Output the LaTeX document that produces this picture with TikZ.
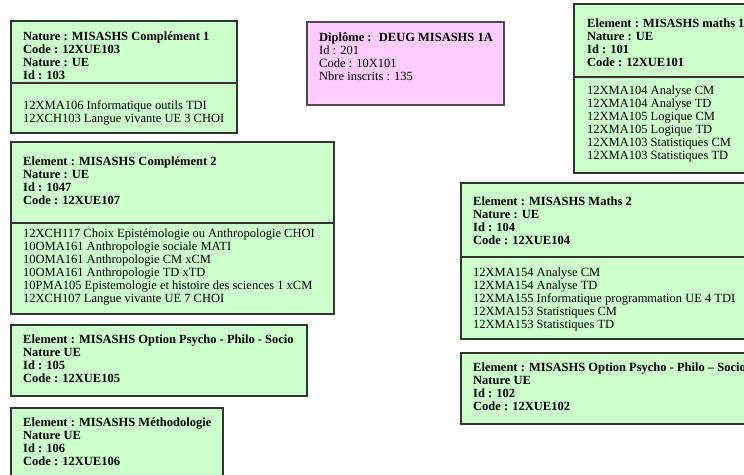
\documentclass[tikz,border=0pt]{standalone}
\usepackage{fontspec}
\setmainfont{Liberation Serif}
\usepackage{xcolor}
\usetikzlibrary{positioning}
\definecolor{uegreen}{RGB}{204,255,204}
\definecolor{diplpink}{RGB}{255,204,255}

\begin{document}
\begin{tikzpicture}
 [x=1pt, y=-1pt,
  uebox/.style={draw=black!80, line width=1.2pt, fill=uegreen},
  diplbox/.style={draw=black!70, line width=1.2pt, fill=diplpink},
  sepline/.style={draw=black!80, line width=1.2pt},
  headtxt/.style={anchor=north west, inner sep=0pt, align=left,
                  font=\fontsize{12.5}{13}\selectfont\bfseries},
  listtxt/.style={anchor=north west, inner sep=0pt, align=left,
                  font=\fontsize{12.5}{13}\selectfont}]
 \useasboundingbox (0,0) rectangle (744,474);
 \clip (0,0) rectangle (744,474);

 % left column
 \draw[uebox]   (11,21) rectangle (237,133);
 \draw[sepline] (11,83) -- (237,83);
 \node[headtxt] (compl1) at (23,32)
  {Nature : MISASHS Complément 1\\
   Code : 12XUE103\\
   Nature : UE\\
   Id : 103};
 \node[listtxt] (compl1list) at (23,100)
  {12XMA106 Informatique outils TDI\\
   12XCH103 Langue vivante UE 3 CHOI};

 \draw[uebox]   (11,142) rectangle (334,314);
 \draw[sepline] (11,223) -- (334,223);
 \node[headtxt] (compl2) at (23,157)
  {Element : MISASHS Complément 2\\
   Nature : UE\\
   Id : 1047\\
   Code : 12XUE107};
 \node[listtxt] (compl2list) at (23,229)
  {12XCH117 Choix Epistémologie ou Anthropologie CHOI\\
   10OMA161 Anthropologie sociale MATI\\
   10OMA161 Anthropologie CM xCM\\
   10OMA161 Anthropologie TD xTD\\
   10PMA105 Epistemologie et histoire des sciences 1 xCM\\
   12XCH107 Langue vivante UE 7 CHOI};

 \draw[uebox]   (11,325) rectangle (307,396);
 \node[headtxt] (option1) at (23,335)
  {Element : MISASHS Option Psycho - Philo - Socio\\
   Nature UE\\
   Id : 105\\
   Code : 12XUE105};

 \draw[uebox]   (11,408) rectangle (223,490);
 \node[headtxt] (methodo) at (23,418)
  {Element : MISASHS Méthodologie\\
   Nature UE\\
   Id : 106\\
   Code : 12XUE106};

 % diplome
 \draw[diplbox] (307,22) rectangle (504,105);
 \node[listtxt] (diplome) at (319,32)
  {\textbf{Diplôme :~ DEUG MISASHS 1A}\\
   Id : 201\\
   Code : 10X101\\
   Nbre inscrits : 135};

 % right column
 \draw[uebox]   (574,4) rectangle (760,173);
 \draw[sepline] (574,77) -- (760,77);
 \node[headtxt] (maths1) at (587,19)
  {Element : MISASHS maths 1\\
   Nature : UE\\
   Id : 101\\
   Code : 12XUE101};
 \node[listtxt] (maths1list) at (587,86)
  {12XMA104 Analyse CM\\
   12XMA104 Analyse TD\\
   12XMA105 Logique CM\\
   12XMA105 Logique TD\\
   12XMA103 Statistiques CM\\
   12XMA103 Statistiques TD};

 \draw[uebox]   (461,183) rectangle (760,339);
 \draw[sepline] (461,257) -- (760,257);
 \node[headtxt] (maths2) at (473,197)
  {Element : MISASHS Maths 2\\
   Nature : UE\\
   Id : 104\\
   Code : 12XUE104};
 \node[listtxt] (maths2list) at (473,268)
  {12XMA154 Analyse CM\\
   12XMA154 Analyse TD\\
   12XMA155 Informatique programmation UE 4 TDI\\
   12XMA153 Statistiques CM\\
   12XMA153 Statistiques TD};

 \draw[uebox]   (461,353) rectangle (760,424);
 \node[headtxt] (option2) at (473,363)
  {Element : MISASHS Option Psycho - Philo -- Socio\\
   Nature UE\\
   Id : 102\\
   Code : 12XUE102};
\end{tikzpicture}
\end{document}
